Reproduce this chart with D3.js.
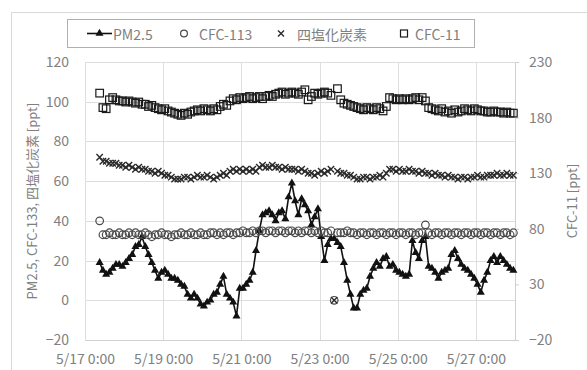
<!DOCTYPE html>
<html>
<head>
<meta charset="utf-8">
<script src="https://cdn.jsdelivr.net/npm/d3@7"></script>
<style>
  html, body { margin: 0; padding: 0; background: #fff; }
  svg { display: block; font-family: "Noto Sans CJK JP", "Noto Sans", sans-serif; }
</style>
</head>
<body>
<svg id="chart" width="587" height="370"></svg>
<script>
// Observation series: one sample every 2 hours from 5/17 9:00
const startTime = new Date(2020, 4, 17, 9, 0);
const stepHours = 2;

const pm25 = [
  19, 15, 13, 14, 16, 18, 18, 17, 19, 21,
  23, 27, 28, 32, 27, 23, 19, 15, 11, 14,
  15, 13, 11, 11, 10, 8, 7, 3, 1, 3,
  1, -2, -3, -1, 0, 3, 4, 8, 12, 3,
  1, -1, -8, 6, 6, 8, 10, 14, 25, 35,
  43, 44, 45, 43, 40, 44, 45, 41, 52, 59,
  50, 43, 51, 48, 45, 38, 42, 46, 32, 20,
  28, 31, 31, 29, 27, 19, 10, 3, -4, -4,
  3, 5, 6, 12, 16, 19, 17, 21, 22, 17,
  18, 15, 14, 13, 12, 13, 30, 24, 21, 30,
  32, 17, 16, 14, 11, 14, 15, 16, 23, 25,
  21, 18, 16, 15, 13, 11, 8, 4, 10, 14,
  20, 22, 19, 22, 20, 18, 16, 15
];

const cfc113 = [
  40, 33, 33, 34, 33, 33, 34, 33, 33, 34,
  33, 34, 33, 33, 34, 33, 32, 33, 33, 34,
  33, 33, 32, 33, 33, 34, 33, 33, 34, 33,
  33, 34, 33, 33, 34, 34, 33, 34, 33, 34,
  34, 33, 34, 34, 35, 34, 34, 35, 34, 35,
  35, 34, 35, 35, 34, 35, 35, 34, 35, 35,
  34, 35, 34, 35, 35, 34, 35, 34, 35, 34,
  34, 35, 0, 34, 34, 34, 35, 34, 34, 33,
  34, 34, 33, 34, 34, 33, 34, 34, 33, 34,
  34, 33, 34, 34, 33, 34, 34, 33, 34, 34,
  38, 34, 33, 34, 34, 33, 34, 34, 33, 34,
  34, 33, 34, 34, 33, 34, 34, 33, 34, 34,
  33, 34, 34, 33, 34, 34, 33, 34
];

const ccl4 = [
  72, 70, 70, 69, 69, 69, 68, 68, 67, 68,
  67, 66, 67, 66, 66, 65, 65, 64, 65, 64,
  63, 63, 62, 61, 61, 61, 62, 62, 61, 62,
  63, 62, 62, 63, 62, 61, 62, 63, 64, 63,
  65, 66, 65, 66, 65, 66, 65, 66, 65, 67,
  68, 67, 67, 68, 67, 67, 66, 67, 66, 66,
  66, 65, 66, 65, 64, 64, 63, 64, 65, 64,
  65, 66, 0, 65, 64, 64, 63, 63, 62, 61,
  61, 62, 62, 61, 62, 62, 63, 62, 64, 66,
  66, 65, 66, 65, 65, 66, 65, 65, 64, 65,
  64, 64, 63, 64, 63, 63, 62, 63, 62, 62,
  61, 62, 62, 61, 62, 62, 63, 62, 62, 63,
  63, 63, 64, 63, 63, 64, 63, 63
];

const cfc11 = [
  202, 189, 188, 196, 198, 196, 195, 195, 194, 195,
  194, 193, 194, 192, 192, 190, 191, 189, 188, 187,
  188, 186, 185, 184, 183, 182, 184, 183, 185, 186,
  187, 186, 188, 187, 186, 188, 187, 190, 192, 191,
  195, 197, 196, 198, 197, 198, 199, 197, 198, 199,
  197, 199, 200, 199, 201, 202, 203, 201, 202, 203,
  202, 201, 203, 205, 196, 199, 202, 201, 202, 203,
  202, 200, null, 206, 196, 193, 192, 191, 190, 189,
  188, 187, 189, 188, 187, 189, 188, 186, 190, 198,
  197, 196, 197, 196, 197, 196, 197, 198, 196, 198,
  195, 189, 188, 187, 186, 188, 185, 186, 184, 187,
  185, 186, 188, 187, 186, 188, 187, 186, 186, 185,
  185, 186, 185, 185, 184, 185, 184, 184
];

// Axes
const xDomain = [new Date(2020, 4, 17, 0, 0), new Date(2020, 4, 28, 0, 0)];
const xTickDays = [17, 19, 21, 23, 25, 27];
const leftTicks = [-20, 0, 20, 40, 60, 80, 100, 120];
const rightTicks = [-20, 30, 80, 130, 180, 230];

const legendNames = ["PM2.5", "CFC-113", "四塩化炭素", "CFC-11"];
const leftTitle = "PM2.5, CFC-133, 四塩化炭素 [ppt]";
const rightTitle = "CFC-11 [ppt]";

const W = 587, H = 370;
const plot = { left: 85, right: 515, top: 62, bottom: 340 };
const textColor = "#808080";
const gridColor = "#dedede";

const times = pm25.map((_, i) => new Date(startTime.getTime() + i * stepHours * 3600e3));

const x = d3.scaleTime().domain(xDomain).range([plot.left, plot.right]);
const yL = d3.scaleLinear().domain([-20, 120]).range([plot.bottom, plot.top]);
const yR = d3.scaleLinear().domain([-20, 230]).range([plot.bottom, plot.top]);

const svg = d3.select("#chart");
svg.append("rect").attr("width", W).attr("height", H).attr("fill", "#fff");

// Chart area frame
svg.append("rect")
  .attr("x", 11.5).attr("y", 12.5).attr("width", 700).attr("height", 500)
  .attr("fill", "none").attr("stroke", "#d9d9d9").attr("stroke-width", 1);

// Horizontal gridlines (left axis)
svg.append("g")
  .selectAll("line").data(leftTicks).join("line")
  .attr("x1", plot.left).attr("x2", plot.right)
  .attr("y1", d => Math.round(yL(d)) + 0.5).attr("y2", d => Math.round(yL(d)) + 0.5)
  .attr("stroke", gridColor).attr("stroke-width", 1);

// Vertical gridlines (date axis)
const xTickVals = xTickDays.map(d => new Date(2020, 4, d, 0, 0));
svg.append("g")
  .selectAll("line").data(xTickVals.concat([xDomain[1]])).join("line")
  .attr("x1", d => Math.round(x(d)) + 0.5).attr("x2", d => Math.round(x(d)) + 0.5)
  .attr("y1", plot.top).attr("y2", plot.bottom)
  .attr("stroke", gridColor).attr("stroke-width", 1);

const fontFam = "'Noto Sans CJK JP', sans-serif";

// Left axis labels
const fmtTime = d3.timeFormat("%-m/%-d %-H:%M");
const axL = d3.axisLeft(yL).tickValues(leftTicks).tickSize(0).tickPadding(16);
const gL = svg.append("g").attr("transform", `translate(${plot.left},0)`).call(axL);
gL.select(".domain").remove();
gL.selectAll("text").attr("fill", textColor).style("font-size", "14px").style("font-family", fontFam);

// Right axis with small outside ticks
const axR = d3.axisRight(yR).tickValues(rightTicks).tickSize(4).tickPadding(10);
const gR = svg.append("g").attr("transform", `translate(${plot.right},0)`).call(axR);
gR.select(".domain").attr("stroke", "#d0d0d0");
gR.selectAll(".tick line").attr("stroke", "#d0d0d0");
gR.selectAll("text").attr("fill", textColor).style("font-size", "14px").style("font-family", fontFam);

// Bottom axis
const axB = d3.axisBottom(x).tickValues(xTickVals).tickFormat(fmtTime).tickSize(0).tickPadding(14);
const gB = svg.append("g").attr("transform", `translate(0,${plot.bottom})`).call(axB);
gB.select(".domain").attr("stroke", "#d0d0d0");
gB.selectAll("text").attr("fill", textColor).style("font-size", "14px").style("font-family", fontFam);

// Axis titles
svg.append("text")
  .attr("transform", `translate(31,${(plot.top + plot.bottom) / 2}) rotate(-90)`)
  .attr("text-anchor", "middle").attr("dominant-baseline", "central")
  .attr("fill", textColor).style("font-size", "13px").text(leftTitle);
svg.append("text")
  .attr("transform", `translate(571,${(plot.top + plot.bottom) / 2}) rotate(-90)`)
  .attr("text-anchor", "middle").attr("dominant-baseline", "central")
  .attr("fill", textColor).style("font-size", "13px").text(rightTitle);

// Marker shapes
const triPath = d3.symbol().type(d3.symbolTriangle).size(28)();
function addCross(g, cx, cy, r, color) {
  g.append("path")
    .attr("d", `M${cx - r},${cy - r}L${cx + r},${cy + r}M${cx - r},${cy + r}L${cx + r},${cy - r}`)
    .attr("stroke", color).attr("stroke-width", 1.4).attr("fill", "none");
}

// PM2.5: line with filled triangles
const pmPts = pm25.map((v, i) => ({ t: times[i], v }));
svg.append("path").datum(pmPts)
  .attr("d", d3.line().x(d => x(d.t)).y(d => yL(d.v)))
  .attr("fill", "none").attr("stroke", "#111").attr("stroke-width", 1.6);
svg.append("g").selectAll("path").data(pmPts).join("path")
  .attr("d", triPath)
  .attr("transform", d => `translate(${x(d.t)},${yL(d.v)})`)
  .attr("fill", "#111");

// CFC-113: open circles
svg.append("g").selectAll("circle").data(cfc113.map((v, i) => ({ t: times[i], v }))).join("circle")
  .attr("cx", d => x(d.t)).attr("cy", d => yL(d.v)).attr("r", 3.8)
  .attr("fill", "none").attr("stroke", "#4a4a4a").attr("stroke-width", 1.2);

// Carbon tetrachloride: crosses
const gX = svg.append("g");
ccl4.forEach((v, i) => addCross(gX, x(times[i]), yL(v), 3.2, "#2a2a2a"));

// CFC-11 (right axis): open squares
svg.append("g").selectAll("rect")
  .data(cfc11.map((v, i) => ({ t: times[i], v })).filter(d => d.v != null)).join("rect")
  .attr("x", d => x(d.t) - 3.8).attr("y", d => yR(d.v) - 3.8)
  .attr("width", 7.6).attr("height", 7.6)
  .attr("fill", "none").attr("stroke", "#1a1a1a").attr("stroke-width", 1.2);

// Legend
const lg = svg.append("g");
lg.append("rect").attr("x", 67.5).attr("y", 19.5).attr("width", 407).attr("height", 28)
  .attr("fill", "#fff").attr("stroke", "#b0b0b0").attr("stroke-width", 1);
const ly = 33.5;
lg.append("line").attr("x1", 87).attr("x2", 112).attr("y1", ly).attr("y2", ly)
  .attr("stroke", "#111").attr("stroke-width", 1.6);
lg.append("path").attr("d", triPath).attr("transform", `translate(99.5,${ly})`).attr("fill", "#111");
lg.append("circle").attr("cx", 184).attr("cy", ly).attr("r", 3.4)
  .attr("fill", "none").attr("stroke", "#4a4a4a").attr("stroke-width", 1.2);
addCross(lg, 281, ly, 3, "#2a2a2a");
lg.append("rect").attr("x", 400.5).attr("y", ly - 3.5).attr("width", 7).attr("height", 7)
  .attr("fill", "none").attr("stroke", "#1a1a1a").attr("stroke-width", 1.2);
const legendX = [113, 199, 297, 415];
lg.selectAll("text").data(legendNames).join("text")
  .attr("x", (d, i) => legendX[i]).attr("y", ly)
  .attr("dominant-baseline", "central")
  .attr("fill", textColor).style("font-size", "14px").text(d => d);
</script>
</body>
</html>
